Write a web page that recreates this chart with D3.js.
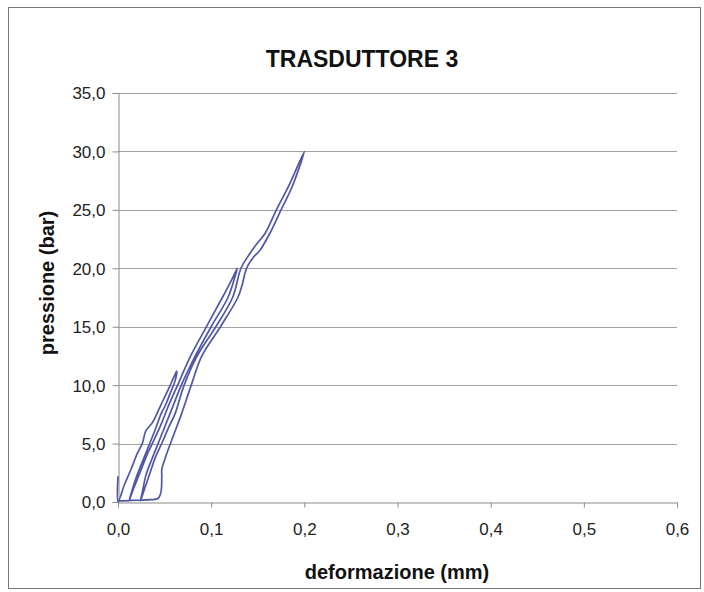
<!DOCTYPE html>
<html>
<head>
<meta charset="utf-8">
<script src="https://cdn.jsdelivr.net/npm/d3@7"></script>
<style>
  html, body { margin: 0; padding: 0; background: #ffffff; }
  svg { display: block; }
</style>
</head>
<body>
<svg id="chart" width="704" height="592"></svg>
<script>
// ---- data ----
const chartTitle = "TRASDUTTORE 3";
const xTitle = "deformazione (mm)";
const yTitle = "pressione (bar)";
const xTicks = [0, 0.1, 0.2, 0.3, 0.4, 0.5, 0.6];
const yTicks = [0, 5, 10, 15, 20, 25, 30, 35];

// deformazione (mm) and pressione (bar), in recording order
const deformazione = [
  0.000, 0.000,
  0.007, 0.014, 0.021, 0.026, 0.030, 0.037, 0.046, 0.055, 0.060, 0.063,
  0.061, 0.057, 0.051, 0.046, 0.040, 0.034, 0.027, 0.020, 0.014, 0.012,
  0.016, 0.024, 0.032, 0.038, 0.046, 0.054, 0.064, 0.078, 0.095, 0.112, 0.122, 0.128,
  0.126, 0.118, 0.100, 0.083, 0.068, 0.057, 0.050, 0.043, 0.036, 0.030, 0.026, 0.024,
  0.028, 0.034, 0.040, 0.048, 0.055, 0.061, 0.071, 0.085, 0.105, 0.123, 0.132, 0.141, 0.148, 0.158, 0.170, 0.183, 0.200,
  0.187, 0.175, 0.163, 0.152, 0.146, 0.138, 0.133, 0.1286, 0.110, 0.090, 0.0786, 0.068, 0.060, 0.053, 0.050, 0.047, 0.047, 0.046, 0.043, 0.035, 0.020, 0.005, 0.000
];
const pressione = [
  2.2, 0.0,
  1.5, 2.8, 4.2, 5.0, 6.1, 6.8, 8.3, 9.8, 10.7, 11.2,
  10.3, 9.5, 8.3, 7.5, 6.2, 5.0, 3.6, 2.2, 0.7, 0.1,
  1.0, 2.6, 4.2, 5.2, 6.6, 8.2, 10.0, 12.5, 15.0, 17.5, 19.0, 20.0,
  19.4, 17.5, 15.0, 12.5, 10.0, 7.8, 6.4, 5.0, 3.6, 2.3, 0.8, 0.1,
  1.0, 2.4, 3.8, 5.2, 6.5, 7.5, 10.0, 12.5, 15.0, 17.5, 20.0, 21.2, 22.0, 23.0, 25.0, 27.0, 30.0,
  27.0, 25.0, 23.0, 21.5, 21.0, 20.0, 18.5, 17.5, 15.0, 12.5, 10.0, 7.5, 5.8, 4.3, 3.6, 2.8, 2.2, 0.8, 0.3, 0.2, 0.15, 0.1, 0.1
];

// ---- layout ----
const svg = d3.select("#chart");
const W = 704, H = 592;
const plot = { left: 118, right: 677, top: 93, bottom: 502 };
const font = "'Liberation Sans', Arial, Helvetica, sans-serif";
const fmt = v => d3.format(".1f")(v).replace(".", ",");

svg.append("rect").attr("width", W).attr("height", H).attr("fill", "#ffffff");
// chart border
svg.append("rect")
  .attr("x", 8.5).attr("y", 7.5).attr("width", 692).attr("height", 581)
  .attr("fill", "none").attr("stroke", "#777").attr("stroke-width", 1);

const x = d3.scaleLinear().domain([0, 0.6]).range([plot.left, plot.right]);
const y = d3.scaleLinear().domain([0, 35]).range([plot.bottom, plot.top]);

// gridlines
svg.append("g")
  .selectAll("line")
  .data(yTicks.filter(d => d > 0))
  .join("line")
  .attr("x1", plot.left).attr("x2", plot.right)
  .attr("y1", d => Math.round(y(d)) + 0.5).attr("y2", d => Math.round(y(d)) + 0.5)
  .attr("stroke", "#a0a0a0").attr("stroke-width", 1);

// y axis
const yAxis = svg.append("g")
  .attr("transform", `translate(${plot.left + 0.5},0)`)
  .call(d3.axisLeft(y).tickValues(yTicks).tickSize(6).tickPadding(7).tickFormat(fmt));
yAxis.select(".domain").attr("stroke", "#8a8a8a");
yAxis.selectAll(".tick line").attr("stroke", "#8a8a8a");
yAxis.selectAll(".tick text")
  .attr("font-family", font).attr("font-size", 17).attr("fill", "#222")
  .attr("dy", "0.35em");

// x axis
const xAxis = svg.append("g")
  .attr("transform", `translate(0,${plot.bottom + 0.5})`)
  .call(d3.axisBottom(x).tickValues(xTicks).tickSize(5).tickPadding(15).tickFormat(fmt));
xAxis.select(".domain").attr("stroke", "#8a8a8a");
xAxis.selectAll(".tick line").attr("stroke", "#8a8a8a");
xAxis.selectAll(".tick text")
  .attr("font-family", font).attr("font-size", 17).attr("fill", "#222");

// data line
const pts = deformazione.map((d, i) => [d, pressione[i]]);
const line = d3.line()
  .x(d => x(d[0])).y(d => y(d[1]))
  .curve(d3.curveCatmullRom.alpha(0.5));
svg.append("path")
  .datum(pts)
  .attr("d", line)
  .attr("fill", "none")
  .attr("stroke", "#5057a5")
  .attr("stroke-width", 1.7)
  .attr("stroke-linejoin", "round");

// titles
svg.append("text")
  .attr("x", 362).attr("y", 67)
  .attr("text-anchor", "middle")
  .attr("font-family", font).attr("font-weight", "bold").attr("font-size", 23)
  .attr("fill", "#111")
  .text(chartTitle);

svg.append("text")
  .attr("x", 397).attr("y", 579)
  .attr("text-anchor", "middle")
  .attr("font-family", font).attr("font-weight", "bold").attr("font-size", 20)
  .attr("fill", "#111")
  .text(xTitle);

svg.append("text")
  .attr("transform", "translate(54,283) rotate(-90)")
  .attr("text-anchor", "middle")
  .attr("font-family", font).attr("font-weight", "bold").attr("font-size", 20)
  .attr("fill", "#111")
  .text(yTitle);
</script>
</body>
</html>
